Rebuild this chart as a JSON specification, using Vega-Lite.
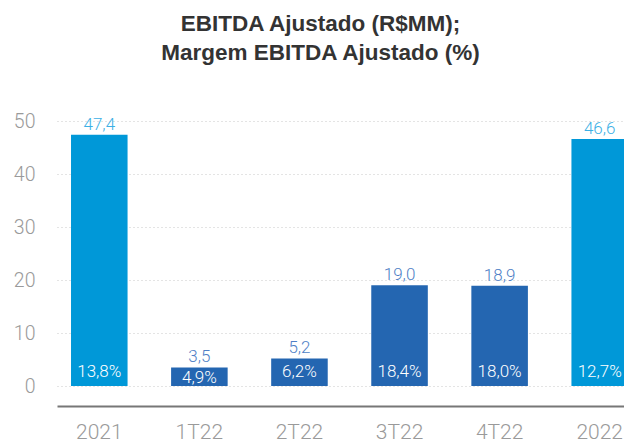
{
  "$schema": "https://vega.github.io/schema/vega-lite/v6.json",
  "autosize": {"type": "none"},
  "width": 585,
  "height": 265,
  "padding": {"left": 57, "top": 121, "right": 0, "bottom": 57},
  "background": "white",
  "config": {
    "view": {"stroke": null},
    "locale": {"number": {"decimal": ",", "thousands": ".", "grouping": [3], "currency": ["R$", ""]}}
  },
  "title": {
    "text": ["EBITDA Ajustado (R$MM);", "Margem EBITDA Ajustado (%)"],
    "font": "Liberation Sans",
    "fontSize": 22.5,
    "fontWeight": "bold",
    "color": "#333333",
    "lineHeight": 28.5,
    "anchor": "middle",
    "dx": -29,
    "offset": 47
  },
  "data": {
    "values": [
      {"periodo": "2021", "tipo": "ano", "ebitda": 47.4, "margem": 0.138},
      {"periodo": "1T22", "tipo": "trimestre", "ebitda": 3.5, "margem": 0.049},
      {"periodo": "2T22", "tipo": "trimestre", "ebitda": 5.2, "margem": 0.062},
      {"periodo": "3T22", "tipo": "trimestre", "ebitda": 19.0, "margem": 0.184},
      {"periodo": "4T22", "tipo": "trimestre", "ebitda": 18.9, "margem": 0.180},
      {"periodo": "2022", "tipo": "ano", "ebitda": 46.6, "margem": 0.127}
    ]
  },
  "encoding": {
    "x": {
      "field": "periodo",
      "type": "nominal",
      "sort": null,
      "scale": {"paddingInner": 0.435, "paddingOuter": 0.14},
      "axis": {
        "title": null,
        "offset": 20,
        "domainColor": "#777777",
        "domainWidth": 2,
        "ticks": false,
        "tickSize": 0,
        "labelPadding": 15,
        "labelFont": "Roboto",
        "labelFontWeight": 300,
        "labelFontSize": 21,
        "labelColor": "#9a9a9a",
        "labelAngle": 0,
        "grid": false
      }
    }
  },
  "layer": [
    {
      "mark": {"type": "bar"},
      "encoding": {
        "y": {
          "field": "ebitda",
          "type": "quantitative",
          "scale": {"domain": [0, 50], "nice": false},
          "axis": {
            "title": null,
            "values": [0, 10, 20, 30, 40, 50],
            "domain": false,
            "ticks": false,
            "tickSize": 0,
            "labelPadding": 22,
            "labelFont": "Roboto",
            "labelFontWeight": 300,
            "labelFontSize": 19.5,
            "labelColor": "#9a9a9a",
            "grid": true,
            "gridColor": "#c8c8c8",
            "gridDash": [1, 3],
            "gridWidth": 1
          }
        },
        "color": {
          "field": "tipo",
          "type": "nominal",
          "scale": {"domain": ["ano", "trimestre"], "range": ["#0098d8", "#2466b1"]},
          "legend": null
        }
      }
    },
    {
      "mark": {"type": "text", "baseline": "alphabetic", "dy": -5, "font": "Roboto", "fontWeight": 300, "fontSize": 17},
      "encoding": {
        "y": {"field": "ebitda", "type": "quantitative"},
        "text": {"field": "ebitda", "type": "quantitative", "format": ".1f"},
        "color": {
          "field": "tipo",
          "type": "nominal",
          "scale": {"domain": ["ano", "trimestre"], "range": ["#3cb0e5", "#4f7fc6"]},
          "legend": null
        }
      }
    },
    {
      "transform": [{"filter": "datum.ebitda >= 4"}],
      "mark": {"type": "text", "baseline": "alphabetic", "dy": -9, "font": "Roboto", "fontWeight": 300, "fontSize": 17, "color": "#ffffff"},
      "encoding": {
        "y": {"datum": 0, "type": "quantitative"},
        "text": {"field": "margem", "type": "quantitative", "format": ".1%"}
      }
    },
    {
      "transform": [{"filter": "datum.ebitda < 4"}],
      "mark": {"type": "text", "baseline": "alphabetic", "dy": -3, "font": "Roboto", "fontWeight": 300, "fontSize": 17, "color": "#ffffff"},
      "encoding": {
        "y": {"datum": 0, "type": "quantitative"},
        "text": {"field": "margem", "type": "quantitative", "format": ".1%"}
      }
    }
  ],
  "resolve": {"scale": {"color": "independent"}}
}
